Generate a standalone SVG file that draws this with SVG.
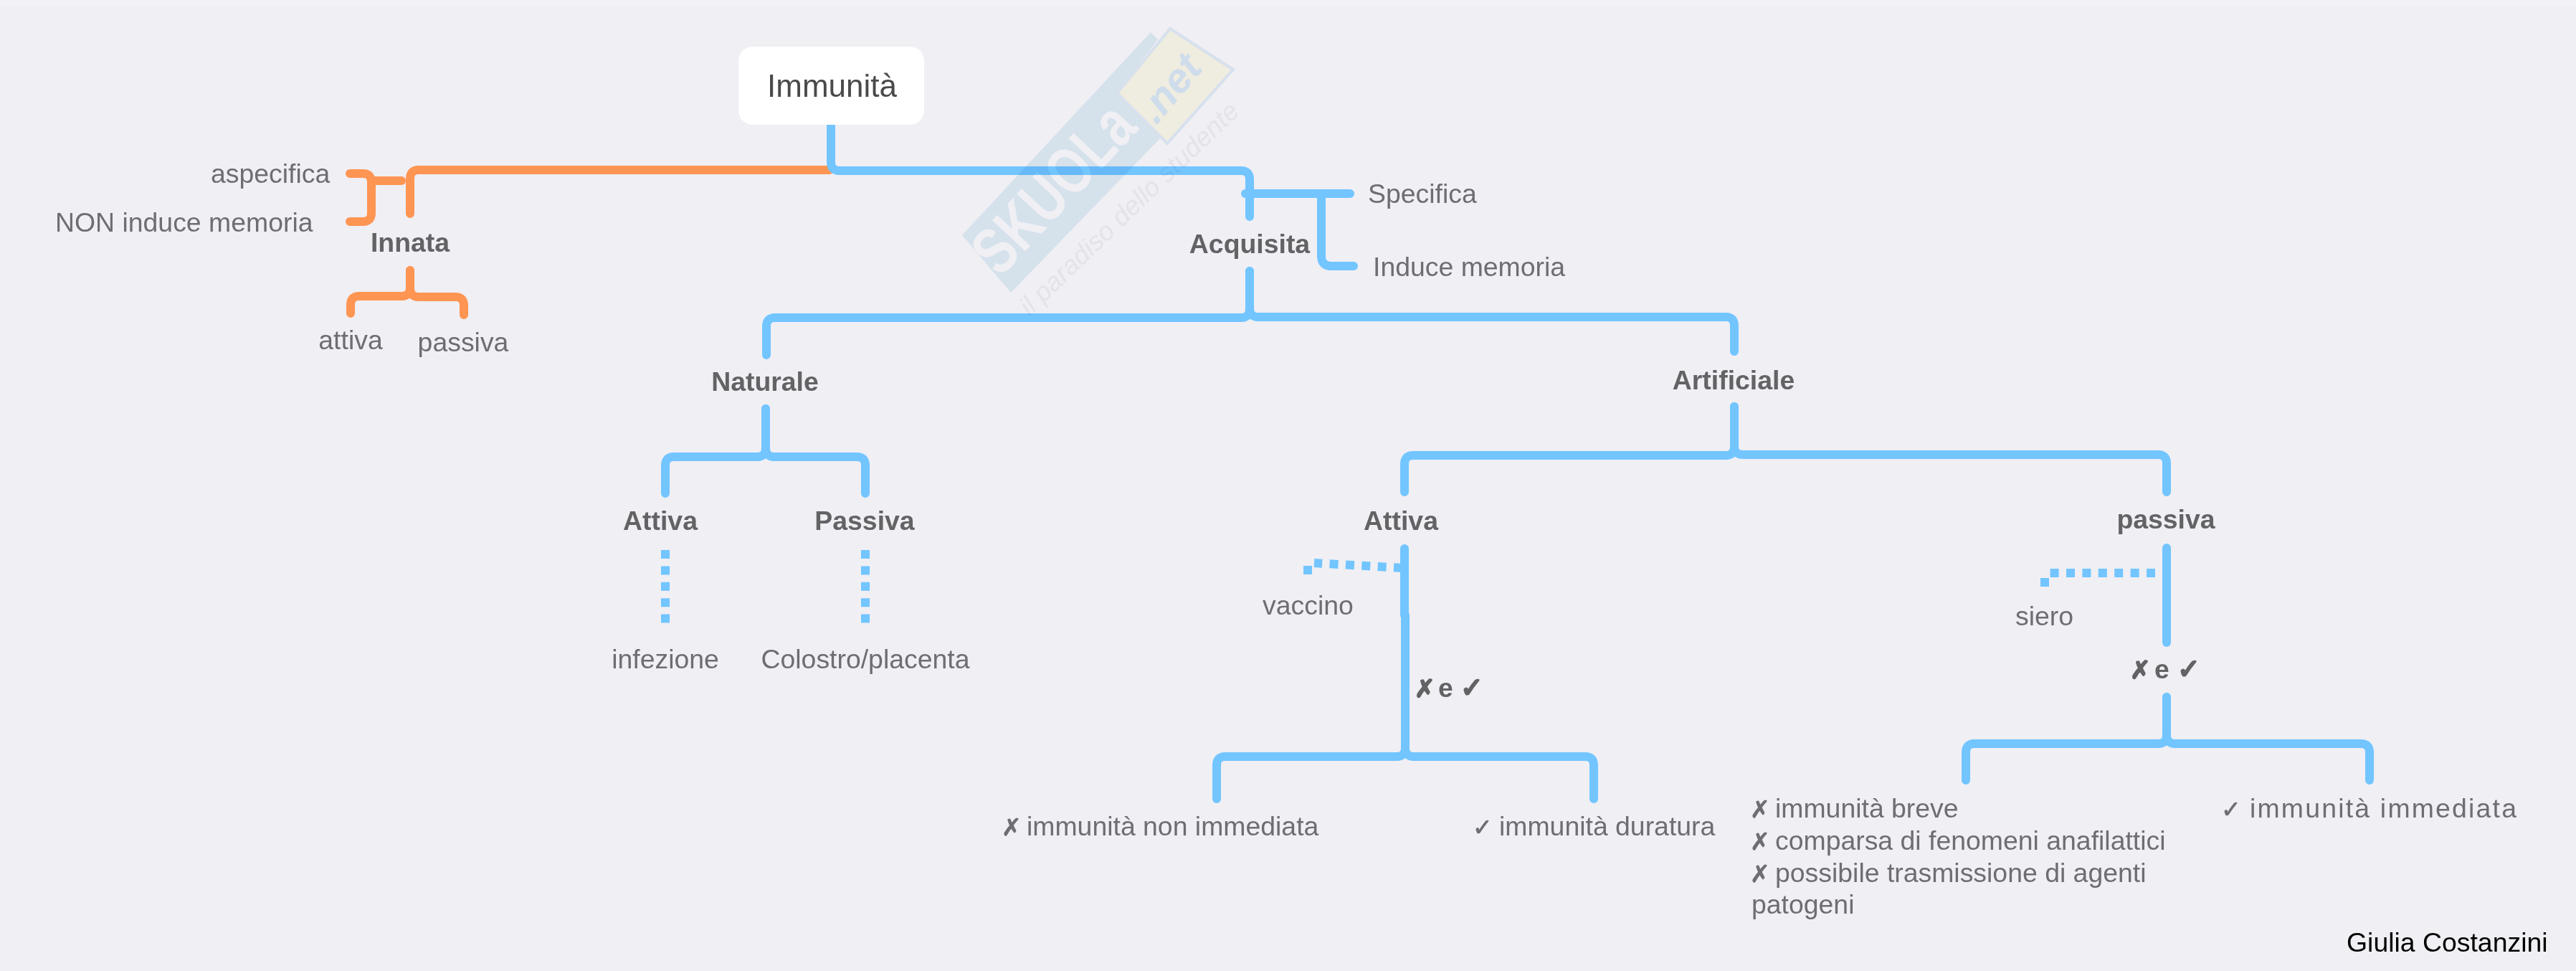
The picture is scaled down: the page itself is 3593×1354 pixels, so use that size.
<svg xmlns="http://www.w3.org/2000/svg" width="3593" height="1354" viewBox="0 0 3593 1354">
<style>
text{font-family:"Liberation Sans","DejaVu Sans",sans-serif;font-size:37.4px;fill:#6d6d72}
.b{font-weight:700;fill:#636366}
.m{text-anchor:middle}
.g{font-family:"DejaVu Sans",sans-serif;font-size:33px;stroke:#6d6d72;stroke-width:.8}
.gb{font-family:"DejaVu Sans",sans-serif;font-size:34px;stroke:#636366;stroke-width:2}
.gc{font-family:"DejaVu Sans",sans-serif;font-size:38px;stroke:#636366;stroke-width:2.5}
.c{fill:none;stroke-width:12;stroke-linecap:round}
.blue{stroke:#72c5ff}
.org{stroke:#ff9552}
.dot{fill:none;stroke:#72c5ff;stroke-width:12;stroke-dasharray:12 10.4}
</style>
<rect width="3593" height="1354" fill="#efeff4"/>
<rect width="3593" height="8" fill="#f3f3f7"/>
<g id="connectors">
<path class="c org" d="M1157,237H584Q572,237 572,249V298"/>
<path class="c org" d="M488,242H506Q518,242 518,254V297Q518,309 506,309H488"/>
<path class="c org" d="M518,252H560"/>
<path class="c org" d="M572,377V401Q572,413 560,413H501Q489,413 489,425V437"/>
<path class="c org" d="M572,377V402Q572,414 584,414H635Q647,414 647,426V439"/>
<path class="c blue" d="M1159,174V226Q1159,238 1171,238H1731Q1743,238 1743,250V302"/>
<path class="c blue" d="M1737,270H1883"/>
<path class="c blue" d="M1843,270V357Q1843,371 1857,371H1888"/>
<path class="c blue" d="M1743,378V431Q1743,443 1731,443H1081Q1069,443 1069,455V495"/>
<path class="c blue" d="M1743,378V430Q1743,442 1755,442H2407Q2419,442 2419,454V490"/>
<path class="c blue" d="M1068,570V625Q1068,637 1056,637H940Q928,637 928,649V688"/>
<path class="c blue" d="M1068,570V625Q1068,637 1080,637H1195Q1207,637 1207,649V688"/>
<path class="c blue" d="M2419,567V623Q2419,635 2407,635H1971Q1959,635 1959,647V686"/>
<path class="c blue" d="M2419,567V622Q2419,634 2431,634H3010Q3022,634 3022,646V686"/>
<path class="dot" d="M928,767V870"/>
<path class="dot" d="M1207,767V870"/>
<path class="c blue" d="M1959,765V858"/>
<path class="c blue" d="M1960,858V1043Q1960,1055 1948,1055H1709Q1697,1055 1697,1067V1114"/>
<path class="c blue" d="M1960,858V1043Q1960,1055 1972,1055H2211Q2223,1055 2223,1067V1114"/>
<path class="dot" d="M1956,792L1833,785"/>
<path class="dot" d="M1824,789V801"/>
<path class="c blue" d="M3022,764V896"/>
<path class="dot" d="M3006,799H2859"/>
<path class="dot" d="M2852,806V818"/>
<path class="c blue" d="M3022,972V1025Q3022,1037 3010,1037H2754Q2742,1037 2742,1049V1088"/>
<path class="c blue" d="M3022,972V1025Q3022,1037 3034,1037H3293Q3305,1037 3305,1049V1088"/>
</g>
<g id="watermark" style="mix-blend-mode:multiply">
<polygon points="1342,328 1605,45 1615,55 1558,130 1618,193 1410,408" fill="#e4f0f6"/>
<polygon points="1632,40 1720,97 1628,200 1558,130" fill="#fffceb" stroke="#e6f0f8" stroke-width="4"/>
<text transform="translate(1395,388) rotate(-47)" style="font-size:92px;font-weight:700;fill:#fff" textLength="285" lengthAdjust="spacingAndGlyphs">SKUOLa</text>
<text transform="translate(1613,175) rotate(-50)" style="font-size:58px;font-weight:700;font-style:italic;fill:#dcebf6">.net</text>
<text transform="translate(1436,442) rotate(-44)" style="font-size:37px;font-style:italic;fill:#f4f3f5">il paradiso dello studente</text>
</g>
<g id="n-immunita"><rect x="1030" y="65" width="259" height="109" rx="20" fill="#fff"/><text x="1070" y="135" style="font-size:44px;fill:#4a4a4a">Immunità</text></g>
<g id="n-innata"><text class="b m" x="572" y="351">Innata</text></g>
<g id="n-aspecifica"><text x="294" y="255">aspecifica</text></g>
<g id="n-non-induce"><text x="77" y="323">NON induce memoria</text></g>
<g id="n-attiva-i"><text class="m" x="489" y="487">attiva</text></g>
<g id="n-passiva-i"><text class="m" x="646" y="490">passiva</text></g>
<g id="n-acquisita"><text class="b m" x="1743" y="353">Acquisita</text></g>
<g id="n-specifica"><text x="1908" y="283">Specifica</text></g>
<g id="n-induce"><text x="1915" y="385">Induce memoria</text></g>
<g id="n-naturale"><text class="b m" x="1067" y="545">Naturale</text></g>
<g id="n-artificiale"><text class="b m" x="2418" y="543">Artificiale</text></g>
<g id="n-attiva-n"><text class="b m" x="921" y="739">Attiva</text></g>
<g id="n-passiva-n"><text class="b m" x="1206" y="739">Passiva</text></g>
<g id="n-infezione"><text class="m" x="928" y="932">infezione</text></g>
<g id="n-colostro"><text class="m" x="1207" y="932">Colostro/placenta</text></g>
<g id="n-attiva-a"><text class="b m" x="1954" y="739">Attiva</text></g>
<g id="n-vaccino"><text x="1761" y="857">vaccino</text></g>
<g id="n-xv-a"><text class="b" y="972"><tspan class="gb" x="1973">✗</tspan><tspan x="2006">e</tspan><tspan class="gc" x="2037">✓</tspan></text></g>
<g id="n-non-imm"><text y="1165"><tspan class="g" x="1397">✗</tspan><tspan x="1432">immunità non immediata</tspan></text></g>
<g id="n-durat"><text y="1165"><tspan class="g" x="2054">✓</tspan><tspan x="2091">immunità duratura</tspan></text></g>
<g id="n-passiva-a"><text class="b m" x="3021" y="737">passiva</text></g>
<g id="n-siero"><text x="2811" y="872">siero</text></g>
<g id="n-xv-p"><text class="b" y="946"><tspan class="gb" x="2971">✗</tspan><tspan x="3005">e</tspan><tspan class="gc" x="3037">✓</tspan></text></g>
<g id="n-list"><text y="1140"><tspan class="g" x="2441">✗</tspan><tspan x="2476">immunità breve</tspan></text><text y="1185"><tspan class="g" x="2441">✗</tspan><tspan x="2476">comparsa di fenomeni anafilattici</tspan></text><text y="1230"><tspan class="g" x="2441">✗</tspan><tspan x="2476">possibile trasmissione di agenti</tspan></text><text x="2443" y="1274">patogeni</text></g>
<g id="n-imm"><text y="1140"><tspan class="g" x="3098">✓</tspan><tspan x="3138" style="letter-spacing:2.2px">immunità immediata</tspan></text></g>
<g id="n-author"><text x="3273" y="1327" style="fill:#000">Giulia Costanzini</text></g>
</svg>
